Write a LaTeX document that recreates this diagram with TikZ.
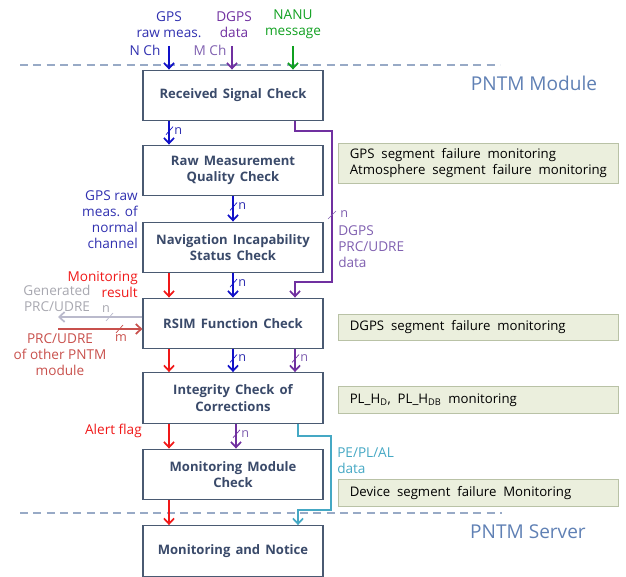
\documentclass[tikz,border=0pt]{standalone}
\usepackage{fontspec}
\setmainfont{Open Sans}
\newfontfamily\boxfont[WordSpace=1.5]{Open Sans}
\usetikzlibrary{arrows.meta,calc}
\definecolor{boxline}{HTML}{4A5A72}
\definecolor{boxtext}{HTML}{3A4A6A}
\definecolor{notefill}{HTML}{EBEFDD}
\definecolor{notedraw}{HTML}{B9C2A6}
\definecolor{cblue}{HTML}{1010C8}
\definecolor{tblue}{HTML}{3030B0}
\definecolor{cpurple}{HTML}{7030A0}
\definecolor{tpurple}{HTML}{8060B0}
\definecolor{cgreen}{HTML}{10A020}
\definecolor{cred}{HTML}{F01818}
\definecolor{ccyan}{HTML}{45A8C4}
\definecolor{cgray}{HTML}{BABACC}
\definecolor{tgray}{HTML}{A8A8B0}
\definecolor{csalmon}{HTML}{C8504C}
\definecolor{dashc}{HTML}{98AAC6}
\definecolor{titlec}{HTML}{5F80B4}
\begin{document}
\begin{tikzpicture}[x=0.75pt,y=-0.75pt,
  procbox/.style={draw=boxline, line width=0.9pt, fill=white, minimum width=135pt,
    minimum height=38pt, align=center, text=boxtext,
    font=\boxfont\fontsize{9.8}{12.5}\selectfont\bfseries},
  notebox/.style={draw=notedraw, fill=notefill, line width=0.7pt, minimum width=210pt},
  notetext/.style={anchor=west, align=left, inner sep=0pt, font=\fontsize{9.9}{12.5}\selectfont},
  lab/.style={inner sep=0pt, font=\fontsize{10.2}{12}\selectfont},
  arr/.style={line width=1.3pt, -{Straight Barb[length=4pt,width=7.5pt]}},
  tickl/.style={line width=0.5pt},
  nlab/.style={inner sep=0pt, font=\fontsize{9.5}{10}\selectfont},
  sep/.style={dashc, line width=0.8pt, dash pattern=on 6pt off 4pt}
]
\useasboundingbox (0,0) rectangle (626,577);

% separators and titles
\coordinate (d1l) at (20,65);  \coordinate (d1r) at (500,65);
\coordinate (d2l) at (20,513); \coordinate (d2r) at (502,513);
\draw[sep] (d1l) -- (d1r);
\draw[sep] (d2l) -- (d2r);
\node[text=titlec, font=\fontsize{14.3}{16}\selectfont, inner sep=0pt] (tmod) at (534,83) {PNTM Module};
\node[text=titlec, font=\fontsize{14.3}{16}\selectfont, inner sep=0pt] (tsrv) at (528,532) {PNTM Server};

% process boxes
\node[procbox] (b1) at (233,95.5) {Received Signal Check};
\node[procbox] (b2) at (233,170.5) {Raw Measurement\\Quality Check};
\node[procbox] (b3) at (233,247.5) {Navigation Incapability\\Status Check};
\node[procbox] (b4) at (233,323.5) {RSIM Function Check};
\node[procbox] (b5) at (233,398) {Integrity Check of\\Corrections};
\node[procbox] (b6) at (233,474.5) {Monitoring Module\\Check};
\node[procbox] (b7) at (233,551) {Monitoring and Notice};

% column coordinates
\coordinate (cR) at (169,0);
\coordinate (cB) at (233,0);
\coordinate (cP) at (295,0);
\coordinate (cC) at (298,0);

% top inputs
\node[lab, text=tblue, align=center] (in1) at (169,24.5) {GPS\\raw meas.};
\node[lab, text=cpurple, align=center] (in2) at (234,24.5) {DGPS\\data};
\node[lab, text=cgreen, align=center] (in3) at (293,24.5) {NANU\\message};
\node[lab, text=tblue] (nch) at (145,50) {N Ch};
\node[lab, text=tpurple] (mch) at (210,50) {M Ch};
\coordinate (s1) at (169,46);
\coordinate (s2) at (232,46);
\coordinate (s3) at (293,46);
\draw[arr, cblue] (s1) -- (b1.north -| s1);
\draw[arr, cpurple] (s2) -- (b1.north -| s2);
\draw[arr, cgreen] (s3) -- (b1.north -| s3);

% b1 -> b2
\draw[arr, cblue] (b1.south -| cR) -- coordinate[pos=0.4] (t1) (b2.north -| cR);
\draw[tickl, cblue] ($(t1)+(-3,4)$) -- ($(t1)+(4,-4)$);
\node[nlab, text=tblue, anchor=west] at ($(t1)+(5,0)$) {n};

% purple DGPS path
\coordinate (p1) at (332,131);
\coordinate (p2) at (332,282);
\draw[arr, cpurple] (b1.south -| cP) |- (p1) -- (p2) -| (b4.north -| cP);
\coordinate (tp) at (332,215);
\draw[tickl, tpurple] ($(tp)+(-4,4)$) -- ($(tp)+(4,-4)$);
\node[nlab, text=tpurple, anchor=west] at ($(tp)+(8,-1)$) {n};
\node[lab, text=tpurple, align=left, anchor=north west] (dgpsl) at (338,225) {DGPS\\PRC/UDRE\\data};

% b2 -> b3
\draw[arr, cblue] (b2.south -| cB) -- coordinate[pos=0.4] (t2) (b3.north -| cB);
\draw[tickl, cblue] ($(t2)+(-3,4)$) -- ($(t2)+(4,-4)$);
\node[nlab, text=tblue, anchor=west] at ($(t2)+(5,0)$) {n};
\node[lab, text=tblue, align=right, anchor=north east] (gpsn) at (138,190) {GPS raw\\meas. of\\normal\\channel};

% b3 -> b4
\draw[arr, cred] (b3.south -| cR) -- (b4.north -| cR);
\draw[arr, cblue] (b3.south -| cB) -- coordinate[pos=0.4] (t3) (b4.north -| cB);
\draw[tickl, cblue] ($(t3)+(-3,4)$) -- ($(t3)+(4,-4)$);
\node[nlab, text=tblue, anchor=west] at ($(t3)+(5,0)$) {n};
\node[lab, text=cred, align=right, anchor=north east] (monr) at (138,271) {Monitoring\\result};

% left side of b4
\coordinate (g) at (58,317);
\coordinate (s) at (58,329);
\draw[arr, cgray] (b4.west |- g) -- (g);
\draw[arr, csalmon] (s) -- (b4.west |- s);
\draw[tickl, cgray] (106,321) -- (113,313);
\node[nlab, text=tgray] at (106,309) {n};
\draw[tickl, csalmon] (116,333) -- (123,325);
\node[nlab, text=csalmon] at (121,338) {m};
\node[lab, text=tgray, align=center] (genl) at (57,298) {Generated\\PRC/UDRE};
\node[lab, text=csalmon, align=center] (othl) at (60,355) {PRC/UDRE\\of other PNTM\\module};

% b4 -> b5
\draw[arr, cred] (b4.south -| cR) -- (b5.north -| cR);
\draw[arr, cblue] (b4.south -| cB) -- coordinate[pos=0.4] (t4) (b5.north -| cB);
\draw[tickl, cblue] ($(t4)+(-3,4)$) -- ($(t4)+(4,-4)$);
\node[nlab, text=tblue, anchor=west] at ($(t4)+(5,0)$) {n};
\draw[arr, cpurple] (b4.south -| cP) -- coordinate[pos=0.4] (t5) (b5.north -| cP);
\draw[tickl, cpurple] ($(t5)+(-3,4)$) -- ($(t5)+(4,-4)$);
\node[nlab, text=tpurple, anchor=west] at ($(t5)+(5,0)$) {n};

% b5 -> b6
\draw[arr, cred] (b5.south -| cR) -- (b6.north -| cR);
\node[lab, text=cred, anchor=east] (alrt) at (142,431) {Alert flag};
\coordinate (cP2) at (236,0);
\draw[arr, cpurple] (b5.south -| cP2) -- coordinate[pos=0.4] (t6) (b6.north -| cP2);
\draw[tickl, cpurple] ($(t6)+(-3,4)$) -- ($(t6)+(4,-4)$);
\node[nlab, text=tpurple, anchor=west] at ($(t6)+(5,0)$) {n};

% cyan path
\coordinate (q1) at (331,436);
\coordinate (q2) at (331,510);
\draw[arr, ccyan] (b5.south -| cC) |- (q1) -- (q2) -| (b7.north -| cC);
\node[lab, text=ccyan, align=left, anchor=north west] (pel) at (337,447) {PE/PL/AL\\data};

% b6 -> b7
\draw[arr, cred] (b6.south -| cR) -- (b7.north -| cR);

% note boxes
\node[notebox, minimum height=30pt] (n1) at (478,163) {};
\node[notetext] at ($(n1.west)+(12,0)$) {GPS\ \ segment\ \ failure\ \ monitoring\\Atmosphere\ \ segment\ \ failure\ \ monitoring};
\node[notebox, minimum height=20pt] (n2) at (478,327.5) {};
\node[notetext] at ($(n2.west)+(12,0)$) {DGPS\ \ segment\ \ failure\ \ monitoring};
\node[notebox, minimum height=20pt] (n3) at (478,400) {};
\node[notetext] at ($(n3.west)+(12,0)$) {PL\_H\textsubscript{D},\ \ PL\_H\textsubscript{DB}\ \ monitoring};
\node[notebox, minimum height=20pt] (n4) at (478,493) {};
\node[notetext] at ($(n4.west)+(12,0)$) {Device\ \ segment\ \ failure\ \ Monitoring};
\end{tikzpicture}
\end{document}
